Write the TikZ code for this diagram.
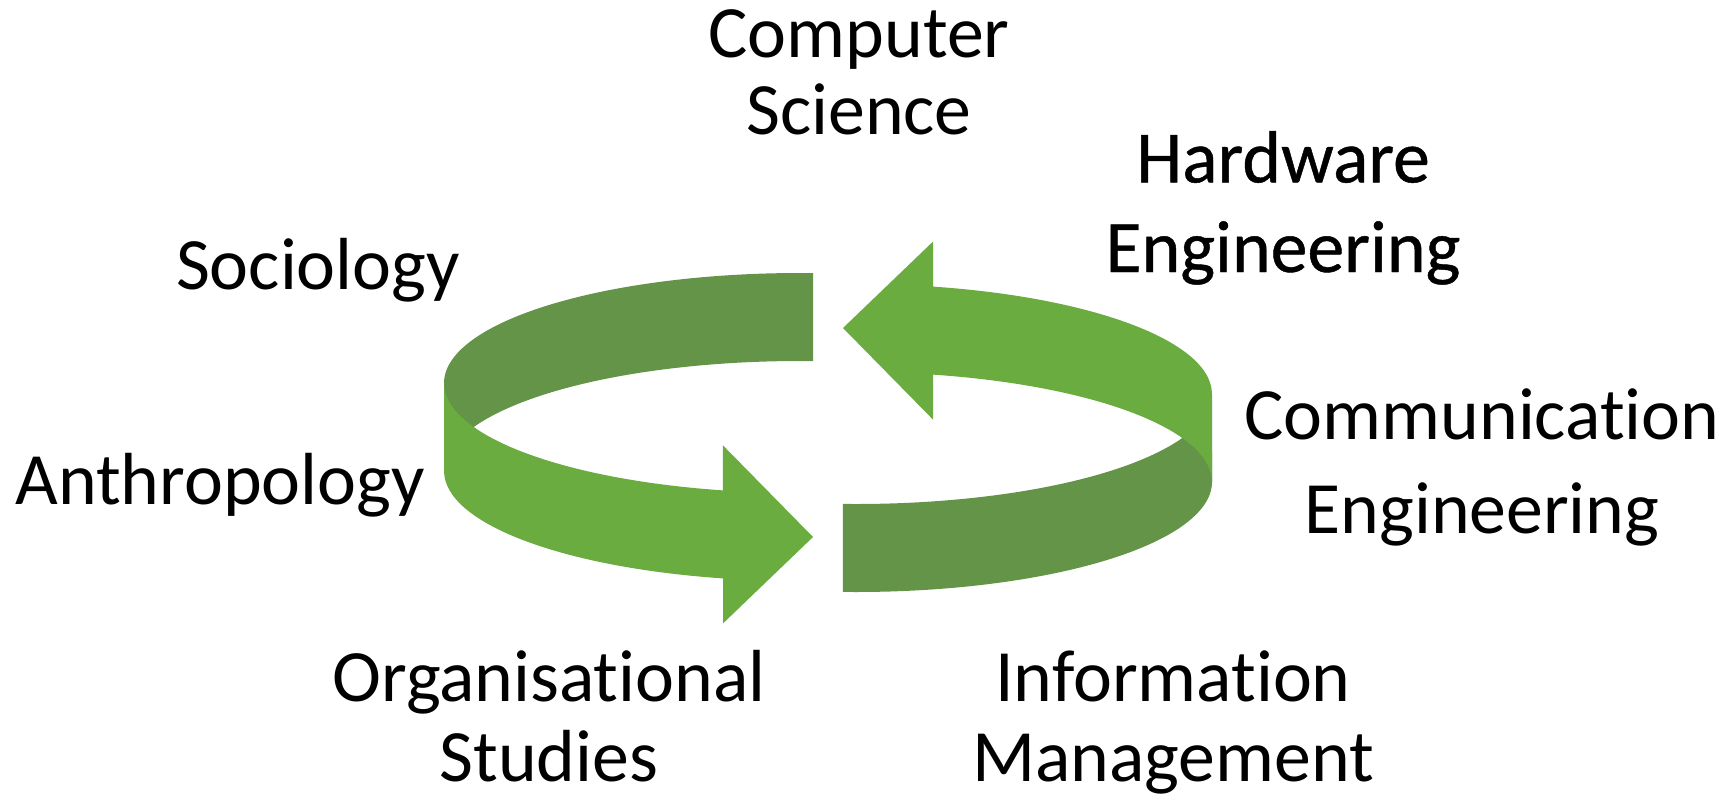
\documentclass[tikz,border=0pt]{standalone}
\usepackage{fontspec}
\setmainfont[Ligatures=CommonOff]{Carlito}
\definecolor{ringlight}{RGB}{106,172,64}
\definecolor{ringdark}{RGB}{100,148,72}

\begin{document}
\begin{tikzpicture}[
    x=0.02cm, y=-0.02cm,
    lbl/.style={align=center, anchor=base, inner sep=0pt,
      font=\fontsize{42}{#1}\selectfont},
    lbl/.default=45,
    lblheavy/.style={lbl=#1,
      font=\fontsize{42}{#1}\selectfont\addfontfeatures{FakeBold=0.6}},
    % half a ring: inner (back) band, then outer (front) band with its head
    ringarrow/.pic={
      \fill[ringdark] (272.1:356 and 110)
        arc[start angle=272.1, end angle=180, x radius=356, y radius=110]
        -- ++(0,88)
        arc[start angle=180, end angle=272.1, x radius=356, y radius=110] -- cycle;
      \fill[ringlight] (-356,0)
        arc[start angle=180, end angle=102.5, x radius=356, y radius=110]
        -- ++(0,-45) -- (13,154) -- (-77,240.4) -- ++(0,-45)
        arc[start angle=102.5, end angle=180, x radius=356, y radius=110] -- cycle;
    },
  ]
  \path[fill=white, use as bounding box] (0,0) rectangle (1727,798);

  \pic at (800,383) {ringarrow};
  \pic[rotate=180] at (856,482) {ringarrow};

  % anchor=base sits on the last line of each label
  \node[lbl=43.6] (cs) at (859,134) {Computer\\Science};
  \node[lblheavy=51] (hw) at (1283,272) {Hardware\\Engineering};
  \node[lbl] (soc) at (318,289) {Sociology};
  \node[lbl] (anth) at (220,504) {Anthropology};
  \node[lbl=53.3] (comm) at (1482,533) {Communication\\Engineering};
  \node[lbl=45.4] (org) at (549,781) {Organisational\\Studies};
  \node[lbl=45.4] (info) at (1173,781) {Information\\Management};
\end{tikzpicture}
\end{document}
